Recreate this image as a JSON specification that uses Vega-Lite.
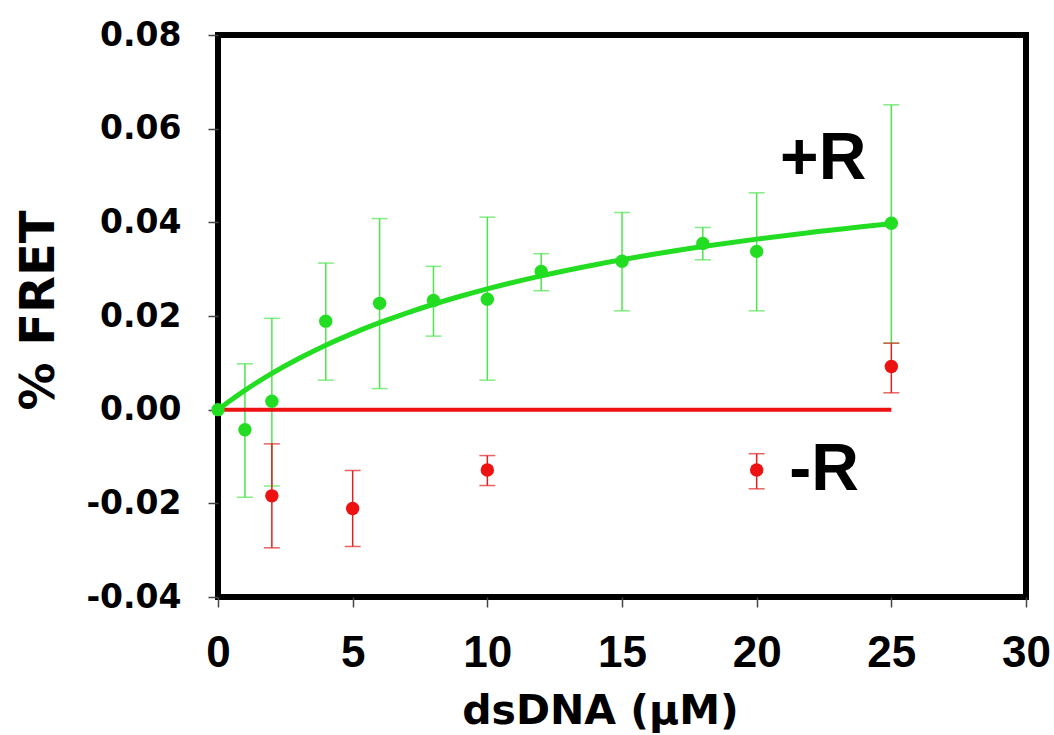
{
  "$schema": "https://vega.github.io/schema/vega-lite/v6.json",
  "width": 808,
  "height": 562,
  "autosize": {"type": "none"},
  "padding": {"left": 218, "top": 35, "right": 28, "bottom": 138},
  "background": "white",
  "config": {
    "view": {"stroke": "black", "strokeWidth": 6},
    "axis": {
      "grid": false,
      "domain": false,
      "labelFlush": false,
      "labelFontWeight": "bold",
      "labelColor": "black",
      "titleFontWeight": "bold",
      "titleColor": "black",
      "tickColor": "#444444",
      "tickWidth": 1.5,
      "tickSize": 10
    }
  },
  "datasets": {
    "pts": [
      {"series": "+R", "x": 0, "y": 0},
      {"series": "+R", "x": 1, "y": -0.0043, "lo": -0.0187, "hi": 0.0098},
      {"series": "+R", "x": 2, "y": 0.0018, "lo": -0.0163, "hi": 0.0195},
      {"series": "+R", "x": 4, "y": 0.0189, "lo": 0.0063, "hi": 0.0313},
      {"series": "+R", "x": 6, "y": 0.0227, "lo": 0.0045, "hi": 0.0408},
      {"series": "+R", "x": 8, "y": 0.0233, "lo": 0.0157, "hi": 0.0306},
      {"series": "+R", "x": 10, "y": 0.0236, "lo": 0.0063, "hi": 0.0411},
      {"series": "+R", "x": 12, "y": 0.0295, "lo": 0.0254, "hi": 0.0333},
      {"series": "+R", "x": 15, "y": 0.0317, "lo": 0.0211, "hi": 0.0421},
      {"series": "+R", "x": 18, "y": 0.0355, "lo": 0.032, "hi": 0.0389},
      {"series": "+R", "x": 20, "y": 0.0338, "lo": 0.0211, "hi": 0.0463},
      {"series": "+R", "x": 25, "y": 0.0398, "lo": 0.0142, "hi": 0.0651},
      {"series": "-R", "x": 2, "y": -0.0184, "lo": -0.0295, "hi": -0.0073},
      {"series": "-R", "x": 5, "y": -0.0211, "lo": -0.0292, "hi": -0.013},
      {"series": "-R", "x": 10, "y": -0.0129, "lo": -0.0162, "hi": -0.0098},
      {"series": "-R", "x": 20, "y": -0.0129, "lo": -0.0169, "hi": -0.0094},
      {"series": "-R", "x": 25, "y": 0.0092, "lo": 0.0036, "hi": 0.0142}
    ],
    "fit": [
      {"x": 0, "y": 0},
      {"x": 0.5, "y": 0.00213},
      {"x": 1, "y": 0.00413},
      {"x": 1.5, "y": 0.00599},
      {"x": 2, "y": 0.00774},
      {"x": 3, "y": 0.01092},
      {"x": 4, "y": 0.01376},
      {"x": 5, "y": 0.01629},
      {"x": 6, "y": 0.01857},
      {"x": 7, "y": 0.02063},
      {"x": 8, "y": 0.02251},
      {"x": 9, "y": 0.02422},
      {"x": 10, "y": 0.02579},
      {"x": 12, "y": 0.02857},
      {"x": 14, "y": 0.03095},
      {"x": 16, "y": 0.03301},
      {"x": 18, "y": 0.03482},
      {"x": 20, "y": 0.03641},
      {"x": 22, "y": 0.03783},
      {"x": 25, "y": 0.03968}
    ],
    "zero": [
      {"x": 0, "y": 0},
      {"x": 25, "y": 0}
    ],
    "labels": [
      {"label": "+R", "x": 22.47, "y": 0.0544},
      {"label": "-R", "x": 22.5, "y": -0.0120}
    ]
  },
  "encoding": {
    "x": {
      "field": "x", "type": "quantitative",
      "scale": {"domain": [0, 30], "nice": false, "zero": false},
      "axis": {
        "title": "dsDNA (μM)",
        "values": [0, 5, 10, 15, 20, 25, 30],
        "labelFont": "Liberation Sans",
        "labelFontSize": 44,
        "labelPadding": 24,
        "titleFont": "DejaVu Sans",
        "titleFontSize": 41,
        "titleX": 382,
        "titleY": 126,
        "titleBaseline": "alphabetic"
      }
    },
    "y": {
      "field": "y", "type": "quantitative",
      "scale": {"domain": [-0.04, 0.08], "nice": false, "zero": false},
      "axis": {
        "title": "% FRET",
        "values": [-0.04, -0.02, 0, 0.02, 0.04, 0.06, 0.08],
        "format": ".2f",
        "labelExpr": "replace(datum.label, '−', '-')",
        "labelFont": "DejaVu Sans",
        "labelFontSize": 33,
        "labelPadding": 27,
        "titleFont": "DejaVu Sans",
        "titleFontSize": 48,
        "titleX": -165,
        "titleY": 275,
        "titleBaseline": "alphabetic",
        "titleAngle": 270
      }
    }
  },
  "layer": [
    {
      "data": {"name": "pts"},
      "transform": [{"filter": "datum.series === '+R'"}],
      "mark": {"type": "rule", "color": "#4de64d", "strokeWidth": 1.5},
      "encoding": {"y": {"field": "lo", "type": "quantitative"}, "y2": {"field": "hi"}}
    },
    {
      "data": {"name": "pts"},
      "transform": [{"filter": "datum.series === '+R'"}],
      "mark": {"type": "tick", "orient": "horizontal", "color": "#4de64d", "thickness": 1.5, "size": 16},
      "encoding": {"y": {"field": "lo", "type": "quantitative"}}
    },
    {
      "data": {"name": "pts"},
      "transform": [{"filter": "datum.series === '+R'"}],
      "mark": {"type": "tick", "orient": "horizontal", "color": "#4de64d", "thickness": 1.5, "size": 16},
      "encoding": {"y": {"field": "hi", "type": "quantitative"}}
    },
    {
      "data": {"name": "zero"},
      "mark": {"type": "line", "color": "#ee1111", "strokeWidth": 4},
      "encoding": {}
    },
    {
      "data": {"name": "fit"},
      "mark": {"type": "line", "color": "#22dd22", "strokeWidth": 5, "interpolate": "monotone"},
      "encoding": {}
    },
    {
      "data": {"name": "pts"},
      "transform": [{"filter": "datum.series === '+R'"}],
      "mark": {"type": "circle", "color": "#22dd22", "opacity": 1, "size": 180},
      "encoding": {}
    },
    {
      "data": {"name": "pts"},
      "transform": [{"filter": "datum.series === '-R'"}],
      "mark": {"type": "rule", "color": "#e02020", "strokeWidth": 1.5},
      "encoding": {"y": {"field": "lo", "type": "quantitative"}, "y2": {"field": "hi"}}
    },
    {
      "data": {"name": "pts"},
      "transform": [{"filter": "datum.series === '-R'"}],
      "mark": {"type": "tick", "orient": "horizontal", "color": "#e02020", "thickness": 1.5, "size": 16},
      "encoding": {"y": {"field": "lo", "type": "quantitative"}}
    },
    {
      "data": {"name": "pts"},
      "transform": [{"filter": "datum.series === '-R'"}],
      "mark": {"type": "tick", "orient": "horizontal", "color": "#e02020", "thickness": 1.5, "size": 16},
      "encoding": {"y": {"field": "hi", "type": "quantitative"}}
    },
    {
      "data": {"name": "pts"},
      "transform": [{"filter": "datum.series === '-R'"}],
      "mark": {"type": "circle", "color": "#ee1111", "opacity": 1, "size": 180},
      "encoding": {}
    },
    {
      "data": {"name": "labels"},
      "mark": {"type": "text", "font": "Liberation Sans", "fontWeight": "bold", "fontSize": 66, "color": "black", "align": "center", "baseline": "middle", "dy": 4},
      "encoding": {"text": {"field": "label"}}
    }
  ]
}
